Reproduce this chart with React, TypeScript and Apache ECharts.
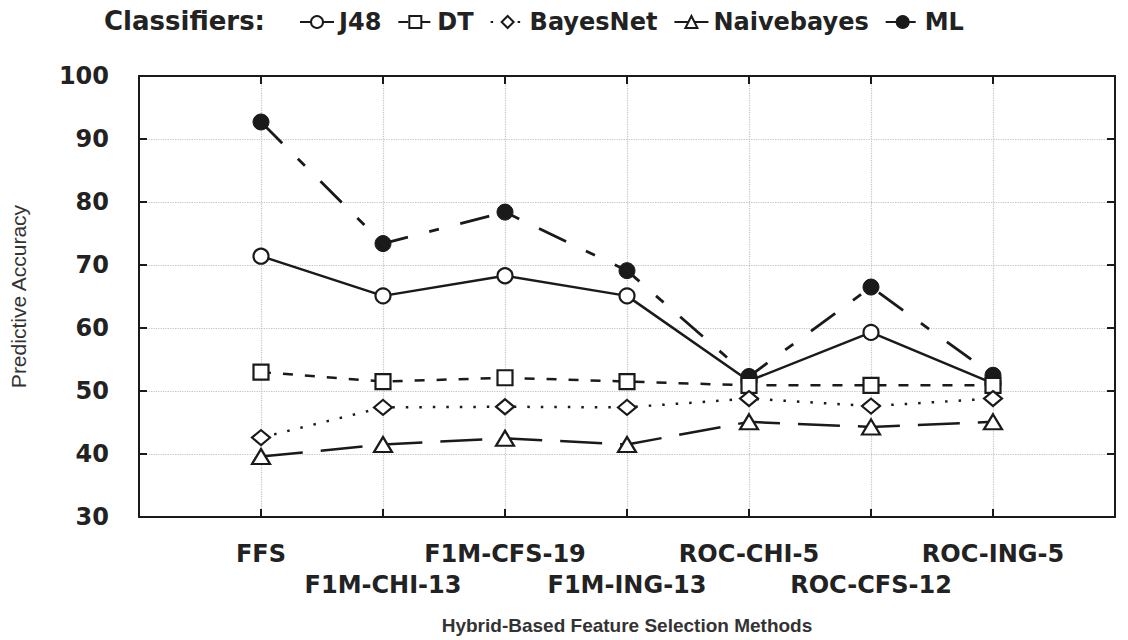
import React, { useEffect, useRef } from "react";
import * as echarts from "echarts";

const categories = ["FFS", "F1M-CHI-13", "F1M-CFS-19", "F1M-ING-13", "ROC-CHI-5", "ROC-CFS-12", "ROC-ING-5"];
const j48 = [71.4, 65.1, 68.3, 65.1, 51.6, 59.3, 51.2];
const dt = [53.0, 51.5, 52.1, 51.5, 50.9, 50.9, 50.9];
const bayesNet = [42.6, 47.4, 47.5, 47.4, 48.8, 47.6, 48.8];
const naiveBayes = [39.6, 41.5, 42.5, 41.5, 45.1, 44.3, 45.1];
const ml = [92.7, 73.4, 78.4, 69.1, 52.3, 66.5, 52.5];
const yTicks = { min: 30, max: 100, interval: 10 };

const pad = (arr: number[]) => ["-", ...arr, "-"];

export default function App() {
  const ref = useRef<HTMLDivElement>(null);
  useEffect(() => {
    if (!ref.current) return;
    const chart = echarts.init(ref.current, null, { renderer: "svg" });
    const axisData = ["", ...categories, ""];
    const ink = "#1a1a1a";
    const open = { color: "#fff", borderColor: ink, borderWidth: 2.2 };
    const bold = { fontFamily: "DejaVu Sans", fontWeight: "bold" as const, color: "#222" };
    chart.setOption({
      animation: false,
      backgroundColor: "#fff",
      title: {
        text: "Classifiers:",
        left: 99,
        top: 3,
        textStyle: { ...bold, fontSize: 26 },
      },
      legend: {
        left: 294,
        top: 5,
        itemWidth: 34,
        itemHeight: 15,
        itemGap: 16,
        data: ["J48", "DT", "BayesNet", "Naivebayes", "ML"],
        textStyle: { ...bold, fontSize: 24 },
      },
      grid: { left: 139, right: 13, top: 76, bottom: 121 },
      xAxis: [
        {
          type: "category",
          data: axisData,
          boundaryGap: false,
          position: "bottom",
          axisLine: { lineStyle: { color: ink, width: 2 } },
          axisTick: { inside: true, length: 8, lineStyle: { color: ink, width: 2 } },
          splitLine: { show: true, lineStyle: { color: "#c4c4c4", type: "dotted", width: 1.2 } },
          axisLabel: {
            interval: 0,
            margin: 21,
            ...bold,
            fontSize: 24,
            lineHeight: 31,
            formatter: (v: string, i: number) => (v && i % 2 === 0 ? "\n" + v : v),
          },
          name: "Hybrid-Based Feature Selection Methods",
          nameLocation: "middle",
          nameGap: 99,
          nameTextStyle: { fontFamily: "Liberation Sans", fontWeight: "bold", fontSize: 19, color: "#333" },
        },
        {
          type: "category",
          data: axisData,
          boundaryGap: false,
          position: "top",
          axisLine: { lineStyle: { color: ink, width: 2 } },
          axisTick: { inside: true, length: 8, lineStyle: { color: ink, width: 2 } },
          axisLabel: { show: false },
          splitLine: { show: false },
        },
      ],
      yAxis: [
        {
          type: "value",
          ...yTicks,
          position: "left",
          axisLine: { show: true, lineStyle: { color: ink, width: 2 } },
          axisTick: { show: true, inside: true, length: 8, lineStyle: { color: ink, width: 2 } },
          splitLine: { show: true, lineStyle: { color: "#c4c4c4", type: "dotted", width: 1.2 } },
          axisLabel: { margin: 30, ...bold, fontSize: 24 },
          name: "Predictive Accuracy",
          nameLocation: "middle",
          nameRotate: 90,
          nameGap: 110,
          nameTextStyle: { fontFamily: "Liberation Sans", fontSize: 21, color: "#333" },
        },
        {
          type: "value",
          ...yTicks,
          position: "right",
          axisLine: { show: true, lineStyle: { color: ink, width: 2 } },
          axisTick: { show: true, inside: true, length: 8, lineStyle: { color: ink, width: 2 } },
          splitLine: { show: false },
          axisLabel: { show: false },
        },
      ],
      series: [
        {
          name: "J48",
          type: "line",
          data: pad(j48),
          symbol: "circle",
          symbolSize: 15,
          itemStyle: open,
          lineStyle: { color: ink, width: 2.5, type: "solid" },
        },
        {
          name: "ML",
          type: "line",
          data: pad(ml),
          symbol: "circle",
          symbolSize: 16,
          itemStyle: { color: ink, borderColor: ink, borderWidth: 1 },
          lineStyle: { color: ink, width: 2.8, type: [30, 22, 10, 22] },
        },
        {
          name: "DT",
          type: "line",
          data: pad(dt),
          symbol: "rect",
          symbolSize: 15,
          itemStyle: open,
          lineStyle: { color: ink, width: 2.5, type: [10, 12] },
        },
        {
          name: "BayesNet",
          type: "line",
          data: pad(bayesNet),
          symbol: "diamond",
          symbolSize: [18, 15],
          itemStyle: open,
          lineStyle: { color: ink, width: 2.5, type: [2.5, 11] },
        },
        {
          name: "Naivebayes",
          type: "line",
          data: pad(naiveBayes),
          symbol: "triangle",
          symbolSize: [18, 15],
          itemStyle: open,
          lineStyle: { color: ink, width: 2.5, type: [42, 18] },
        },
      ],
    });
    return () => chart.dispose();
  }, []);
  return (
    <div
      ref={ref}
      style={{ position: "fixed", left: 0, top: 0, width: 1128, height: 640, background: "#fff" }}
    />
  );
}
